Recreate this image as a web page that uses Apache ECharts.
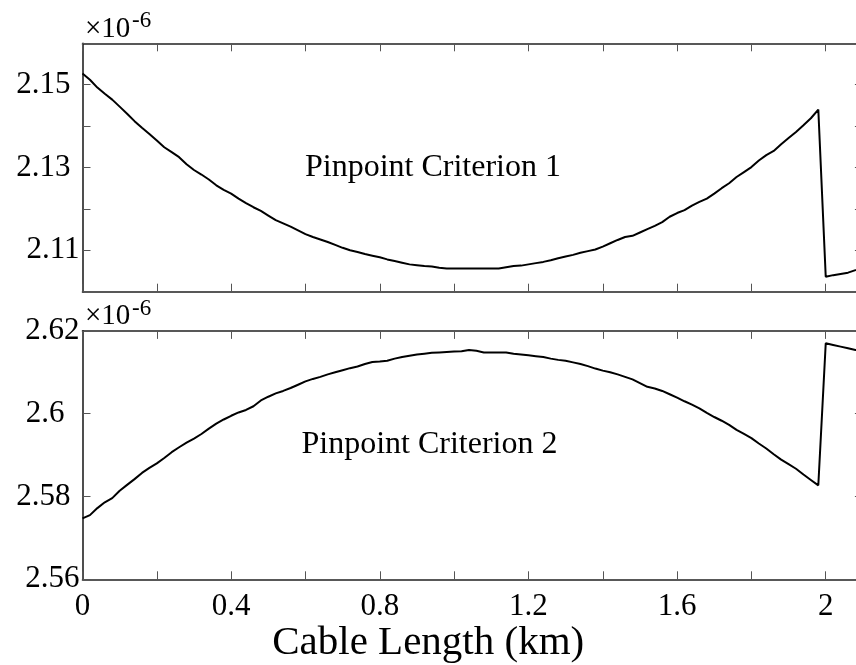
<!DOCTYPE html>
<html><head><meta charset="utf-8">
<script src="https://cdn.jsdelivr.net/npm/echarts@6/dist/echarts.min.js"></script>
<style>html,body{margin:0;padding:0;background:#fff}#c{width:856px;height:665px}</style>
</head><body><div id="c"></div>
<script>
// Cable length (km)
const cableLength = [0,0.02,0.04,0.06,0.08,0.1,0.12,0.14,0.16,0.18,0.2,0.22,0.24,0.26,0.28,0.3,0.32,0.34,0.36,0.38,
0.4,0.42,0.44,0.46,0.48,0.5,0.52,0.54,0.56,0.58,0.6,0.62,0.64,0.66,0.68,0.7,0.72,0.74,0.76,0.78,
0.8,0.82,0.84,0.86,0.88,0.9,0.92,0.94,0.96,0.98,1.0,1.02,1.04,1.06,1.08,1.1,1.12,1.14,1.16,1.18,
1.2,1.22,1.24,1.26,1.28,1.3,1.32,1.34,1.36,1.38,1.4,1.42,1.44,1.46,1.48,1.5,1.52,1.54,1.56,1.58,
1.6,1.62,1.64,1.66,1.68,1.7,1.72,1.74,1.76,1.78,1.8,1.82,1.84,1.86,1.88,1.9,1.92,1.94,1.96,1.98,
2.0,2.02,2.04,2.06,2.08,2.1];
// Pinpoint Criterion 1 (x1e-6)
const criterion1 = [2.1527,2.1512,2.1493,2.1478,2.1464,2.1447,2.1430,2.1412,2.1396,2.1381,2.1365,2.1349,2.1337,2.1325,2.1308,2.1294,2.1283,2.1271,2.1257,2.1246,
2.1237,2.1225,2.1214,2.1204,2.1195,2.1184,2.1173,2.1165,2.1157,2.1148,2.1139,2.1132,2.1126,2.1120,2.1113,2.1106,2.1100,2.1096,2.1091,2.1087,
2.1083,2.1078,2.1074,2.1070,2.1066,2.1064,2.1062,2.1061,2.1058,2.1056,2.1056,2.1056,2.1056,2.1056,2.1056,2.1056,2.1056,2.1059,2.1062,2.1063,
2.1066,2.1069,2.1072,2.1076,2.1081,2.1085,2.1089,2.1094,2.1098,2.1102,2.1109,2.1117,2.1125,2.1132,2.1135,2.1143,2.1151,2.1159,2.1168,2.1181,
2.1190,2.1197,2.1208,2.1217,2.1225,2.1237,2.1250,2.1262,2.1277,2.1289,2.1301,2.1317,2.1330,2.1340,2.1356,2.1371,2.1386,2.1402,2.1419,2.1440,
2.1036,2.1040,2.1043,2.1046,2.1052,2.1058];
// Pinpoint Criterion 2 (x1e-6)
const criterion2 = [2.5747,2.5755,2.5772,2.5786,2.5796,2.5814,2.5828,2.5842,2.5857,2.5869,2.5880,2.5893,2.5907,2.5919,2.5930,2.5940,2.5951,2.5964,2.5976,2.5986,
2.5995,2.6003,2.6009,2.6018,2.6032,2.6041,2.6049,2.6055,2.6062,2.6070,2.6078,2.6084,2.6089,2.6095,2.6100,2.6105,2.6110,2.6114,2.6120,2.6125,
2.6126,2.6128,2.6133,2.6137,2.6140,2.6143,2.6145,2.6147,2.6148,2.6149,2.6150,2.6151,2.6154,2.6152,2.6148,2.6148,2.6148,2.6148,2.6145,2.6143,
2.6141,2.6139,2.6137,2.6133,2.6130,2.6128,2.6124,2.6120,2.6115,2.6109,2.6104,2.6100,2.6095,2.6089,2.6083,2.6074,2.6065,2.6061,2.6055,2.6047,
2.6039,2.6030,2.6022,2.6013,2.6002,2.5992,2.5983,2.5973,2.5961,2.5951,2.5941,2.5928,2.5916,2.5902,2.5889,2.5878,2.5867,2.5853,2.5840,2.5827,
2.6170,2.6166,2.6162,2.6158,2.6154,2.6150];
// Tick labels
const xTickLabels = ['0','0.4','0.8','1.2','1.6','2'];
const yTickLabels1 = ['2.11','2.13','2.15'];
const yTickLabels2 = ['2.56','2.58','2.6','2.62'];

const FONT = '"Liberation Serif","Times New Roman",serif';
const chart = echarts.init(document.getElementById('c'), null, {renderer:'canvas'});
const axLine = {show:true, onZero:false, lineStyle:{color:'#222', width:1.6}};
const axTick = {show:true, inside:true, length:8, lineStyle:{color:'#555', width:1}};
const rich = {
  n:{fontFamily:FONT, fontSize:31, color:'#000', padding:[0,0,0,0]},
  f:{fontFamily:FONT, fontSize:31, color:'#000', padding:[0,9,0,0]},
  g:{fontFamily:FONT, fontSize:31, color:'#000', padding:[0,15,0,0]}
};
const labelStyleKey = {'2.11':'n','2.62':'n','2.56':'n','2.6':'g','2.13':'f','2.15':'f','2.58':'f'};
function yFmt(list){
  return function(v){
    const t = list.find(l => Math.abs(parseFloat(l) - v) < 1e-6);
    if (!t) return '';
    return '{'+labelStyleKey[t]+'|'+t+'}';
  };
}
function xFmt(v){
  const t = xTickLabels.find(l => Math.abs(parseFloat(l)-v) < 1e-6);
  return t || '';
}
function xa(grid, pos, labels){
  return {gridIndex:grid, type:'value', min:0, max:2.1, interval:0.2, position:pos,
    axisLine:axLine, axisTick:axTick, splitLine:{show:false},
    axisLabel:{show:labels, formatter:xFmt, fontFamily:FONT, fontSize:31, color:'#000', margin:12, hideOverlap:false}};
}
function ya(grid, pos, min, max, interval, labels, list){
  return {gridIndex:grid, type:'value', min:min, max:max, interval:interval, position:pos,
    axisLine:axLine, axisTick:axTick, splitLine:{show:false},
    axisLabel:{show:labels, formatter: list ? yFmt(list) : null, fontFamily:FONT, fontSize:31, color:'#000', margin:3, rich:rich, hideOverlap:false}};
}
const xAx = [xa(0,'bottom',false), xa(0,'top',false), xa(1,'bottom',true), xa(1,'top',false)];
xAx[2].name = 'Cable Length (km)';
xAx[2].nameLocation = 'middle';
xAx[2].nameGap = 42;
xAx[2].nameTextStyle = {fontFamily:FONT, fontSize:41, color:'#000', padding:[0,89,0,0]};
const option = {
  animation:false,
  backgroundColor:'#fff',
  grid:[
    {left:82.5, top:43.3, width:780.4, height:248.4, outerBoundsMode:'none', containLabel:false},
    {left:82.5, top:330.9, width:780.4, height:248.4, outerBoundsMode:'none', containLabel:false}
  ],
  xAxis: xAx,
  yAxis:[
    ya(0,'left',2.10,2.16,0.01,true,yTickLabels1),
    ya(0,'right',2.10,2.16,0.01,false,null),
    ya(1,'left',2.56,2.62,0.02,true,yTickLabels2),
    ya(1,'right',2.56,2.62,0.02,false,null)
  ],
  series:[
    {name:'Pinpoint Criterion 1', type:'line', xAxisIndex:0, yAxisIndex:0, showSymbol:false, symbol:'none',
     lineStyle:{color:'#000', width:2}, data: cableLength.map((x,i)=>[x, criterion1[i]])},
    {name:'Pinpoint Criterion 2', type:'line', xAxisIndex:2, yAxisIndex:2, showSymbol:false, symbol:'none',
     lineStyle:{color:'#000', width:2}, data: cableLength.map((x,i)=>[x, criterion2[i]])}
  ],
  graphic:[
    {type:'text', x:85, y:29, style:{text:'×10', font:'29px '+FONT, fill:'#000', textAlign:'left', textVerticalAlign:'middle', align:'left', verticalAlign:'middle'}},
    {type:'text', x:132, y:21, style:{text:'-6', font:'23px '+FONT, fill:'#000', textAlign:'left', textVerticalAlign:'middle', align:'left', verticalAlign:'middle'}},
    {type:'text', x:85, y:316.6, style:{text:'×10', font:'29px '+FONT, fill:'#000', textAlign:'left', textVerticalAlign:'middle', align:'left', verticalAlign:'middle'}},
    {type:'text', x:132, y:308.6, style:{text:'-6', font:'23px '+FONT, fill:'#000', textAlign:'left', textVerticalAlign:'middle', align:'left', verticalAlign:'middle'}},
    {type:'text', x:305, y:167.5, style:{text:'Pinpoint Criterion 1', font:'32px '+FONT, fill:'#000', textAlign:'left', textVerticalAlign:'middle', align:'left', verticalAlign:'middle'}},
    {type:'text', x:301.5, y:444.5, style:{text:'Pinpoint Criterion 2', font:'32px '+FONT, fill:'#000', textAlign:'left', textVerticalAlign:'middle', align:'left', verticalAlign:'middle'}}
  ]
};
chart.setOption(option);
</script>
</body></html>
